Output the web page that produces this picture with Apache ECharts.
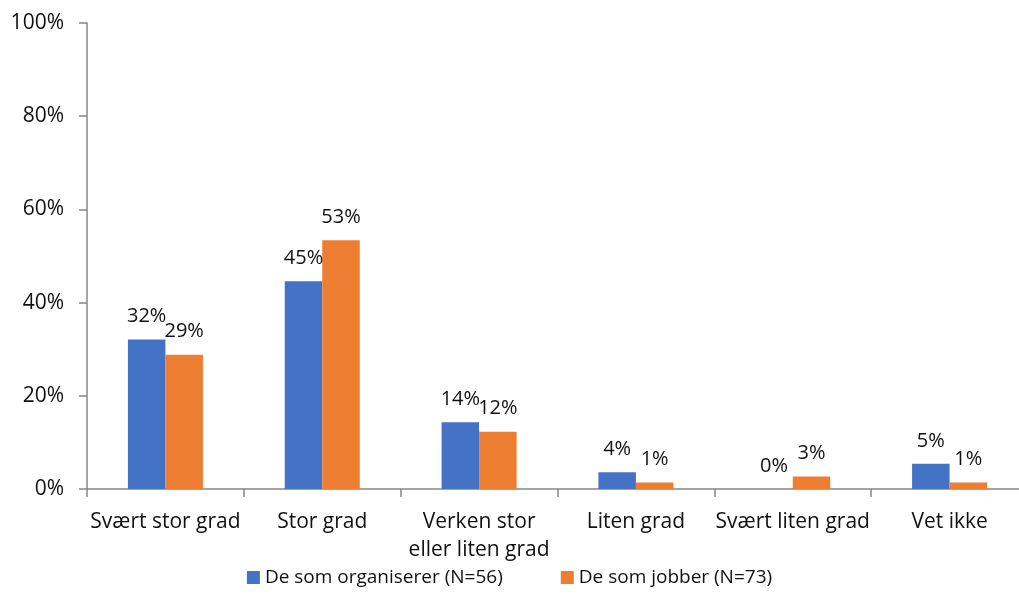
<!DOCTYPE html>
<html>
<head>
<meta charset="utf-8">
<script src="https://cdn.jsdelivr.net/npm/echarts@6/dist/echarts.min.js"></script>
<style>
  html, body { margin: 0; padding: 0; background: #fff; }
  #chart { width: 1019px; height: 612px; }
</style>
</head>
<body>
<div id="chart"></div>
<script>
const categories = ['Svært stor grad', 'Stor grad', 'Verken stor\neller liten grad', 'Liten grad', 'Svært liten grad', 'Vet ikke'];
const seriesNames = ['De som organiserer (N=56)', 'De som jobber (N=73)'];
// percent of respondents
const organiserer = [32.1, 44.6, 14.3, 3.6, 0, 5.4];
const jobber = [28.8, 53.4, 12.3, 1.4, 2.7, 1.4];
const yTicks = [0, 20, 40, 60, 80, 100];

const font = '"Open Sans", Lato, sans-serif';
const textColor = '#111';
const axisColor = '#868686';

const chart = echarts.init(document.getElementById('chart'));

function barSeries(name, data, color) {
  return {
    name: name,
    type: 'bar',
    data: data,
    barWidth: 37.5,
    barGap: '0%',
    itemStyle: { color: color },
    label: {
      show: true,
      position: 'top',
      distance: 13,
      color: textColor,
      fontFamily: font,
      fontSize: 20,
      formatter: p => Math.round(p.value) + '%'
    }
  };
}

chart.setOption({
  animation: false,
  textStyle: { fontFamily: font },
  grid: { left: 87, top: 23, width: 941, height: 466, outerBoundsMode: 'none', containLabel: false },
  legend: {
    bottom: 20,
    left: 'center',
    itemWidth: 13,
    itemHeight: 13,
    itemGap: 58,
    icon: 'rect',
    textStyle: { color: textColor, fontFamily: font, fontSize: 19 },
    data: seriesNames
  },
  xAxis: {
    type: 'category',
    data: categories,
    axisLine: { lineStyle: { color: axisColor, width: 1.5 } },
    axisTick: { show: true, length: 8, lineStyle: { color: axisColor, width: 1.5 } },
    axisLabel: {
      color: textColor,
      fontFamily: font,
      fontSize: 21,
      lineHeight: 28,
      margin: 19,
      interval: 0
    }
  },
  yAxis: {
    type: 'value',
    min: yTicks[0],
    max: yTicks[yTicks.length - 1],
    interval: 20,
    splitLine: { show: false },
    axisLine: { show: true, lineStyle: { color: axisColor, width: 1.5 } },
    axisTick: { show: true, length: 8, lineStyle: { color: axisColor, width: 1.5 } },
    axisLabel: {
      color: textColor,
      fontFamily: font,
      fontSize: 21,
      margin: 23,
      formatter: v => v + '%'
    }
  },
  series: [
    barSeries(seriesNames[0], organiserer, '#4472C4'),
    barSeries(seriesNames[1], jobber, '#ED7D31')
  ]
});
</script>
</body>
</html>
